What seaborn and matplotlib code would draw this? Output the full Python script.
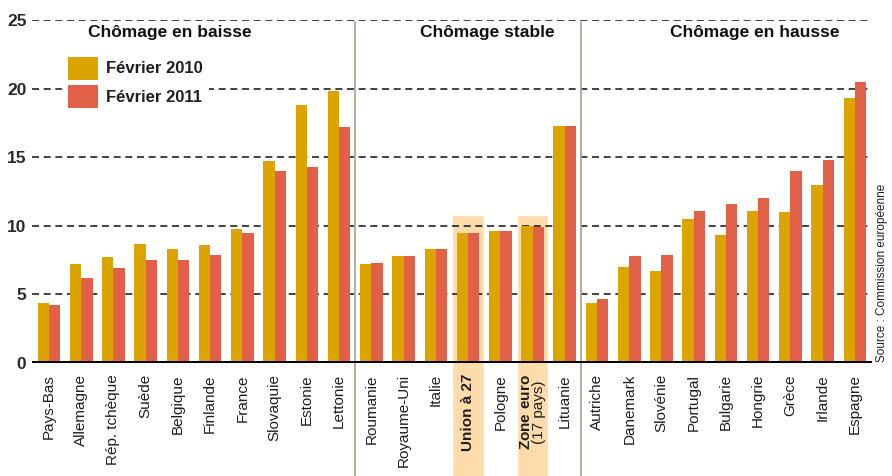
import numpy as np
import pandas as pd
import seaborn as sns
import matplotlib.pyplot as plt
from matplotlib.patches import Patch

pays = ['Pays-Bas', 'Allemagne', 'Rép. tchèque', 'Suède', 'Belgique', 'Finlande',
        'France', 'Slovaquie', 'Estonie', 'Lettonie',
        'Roumanie', 'Royaume-Uni', 'Italie', 'Union à 27', 'Pologne', 'Zone euro',
        'Lituanie',
        'Autriche', 'Danemark', 'Slovénie', 'Portugal', 'Bulgarie', 'Hongrie',
        'Grèce', 'Irlande', 'Espagne']
fev2010 = [4.4, 7.2, 7.7, 8.7, 8.3, 8.6, 9.8, 14.7, 18.8, 19.8,
           7.2, 7.8, 8.3, 9.5, 9.6, 10.0, 17.3,
           4.4, 7.0, 6.7, 10.5, 9.3, 11.1, 11.0, 13.0, 19.3]
fev2011 = [4.2, 6.2, 6.9, 7.5, 7.5, 7.9, 9.5, 14.0, 14.3, 17.2,
           7.3, 7.8, 8.3, 9.5, 9.6, 9.9, 17.3,
           4.7, 7.8, 7.9, 11.1, 11.6, 12.0, 14.0, 14.8, 20.5]
series = ['Février 2010', 'Février 2011']
groupes = ['Chômage en baisse', 'Chômage stable', 'Chômage en hausse']
yticks = [0, 5, 10, 15, 20, 25]

GOLD = '#dca400'
RED = '#e26048'
HIGHLIGHT = '#fddbab'
DIVIDER = '#b0a794'

df = pd.DataFrame({
    'pays': pays * 2,
    'taux': fev2010 + fev2011,
    'mois': [series[0]] * len(pays) + [series[1]] * len(pays),
})

sns.set_style('white')
plt.rcParams['font.family'] = ['Liberation Sans', 'DejaVu Sans']
plt.rcParams['mathtext.fontset'] = 'custom'
plt.rcParams['mathtext.rm'] = 'Liberation Sans'
plt.rcParams['mathtext.bf'] = 'Liberation Sans:bold'

fig, ax = plt.subplots(figsize=(8.92, 4.76), dpi=100)
fig.subplots_adjust(left=32 / 892, right=872 / 892, bottom=113 / 476, top=456 / 476)

sns.barplot(data=df, x='pays', y='taux', hue='mois', order=pays,
            palette=[GOLD, RED], saturation=1, width=0.7, ax=ax,
            legend=False, zorder=2, edgecolor='none')

# highlight boxes for EU aggregates
hl = [pays.index('Union à 27'), pays.index('Zone euro')]
ax.bar(hl, 10.8 + 8.3, bottom=-8.3, width=0.98, color=HIGHLIGHT,
       zorder=0.2, clip_on=False)

ax.set_xlim(-0.527, 25.53)
ax.set_ylim(0, 25)
ax.set_axisbelow(True)
ax.set_yticks(yticks)
ax.yaxis.grid(True, color='#222222', lw=1.2, linestyle=(0, (4.2, 2.8)))
ax.xaxis.grid(False)
sns.despine(ax=ax, left=True, bottom=True)
ax.tick_params(length=0)
ax.set_xlabel('')
ax.set_ylabel('')

ax.axhline(0, color='black', lw=3.6, zorder=4)

# dividers between groups
for xd in [9.5, 16.5]:
    ax.plot([xd, xd], [-8.3, 24.85], color=DIVIDER, lw=1.3, clip_on=False, zorder=3)

# y tick labels
ax.set_yticklabels([str(t) for t in yticks], fontsize=12.5, fontweight='bold',
                   color='#2a2a2a')
ax.tick_params(axis='y', pad=4)

# x tick labels
labels = list(pays)
labels[pays.index('Zone euro')] = '$\\bf{Zone\\ euro}$\n(17 pays)'
ax.set_xticks(range(len(pays)))
ax.set_xticklabels(labels, rotation=90, fontsize=11, color='#1e1e1e',
                   linespacing=0.95)
ax.tick_params(axis='x', pad=8)
ax.get_xticklabels()[pays.index('Union à 27')].set_fontweight('bold')

# group titles
for xt, t in zip([3.75, 13.6, 21.9], groupes):
    ax.text(xt, 24.1, t, ha='center', va='center', fontsize=12.5,
            fontweight='bold', color='#111111')

handles = [Patch(facecolor=GOLD, edgecolor='none'),
           Patch(facecolor=RED, edgecolor='none')]
leg = ax.legend(handles, series, loc='upper left', bbox_to_anchor=(0.03, 0.925),
                frameon=True, facecolor='white', edgecolor='none', framealpha=1,
                fancybox=False, handlelength=1.8, handleheight=1.75,
                labelspacing=0.3, handletextpad=0.5, borderpad=0.35,
                borderaxespad=0.3,
                prop={'weight': 'bold', 'size': 12})
leg.set_zorder(5)
for txt in leg.get_texts():
    txt.set_color('#1e1e1e')

fig.text(882 / 892, 1 - 273 / 476, 'Source : Commission européenne', rotation=90,
         ha='center', va='center', fontsize=8.5, color='#1e1e1e')

fig.savefig('out.png', dpi=100)
